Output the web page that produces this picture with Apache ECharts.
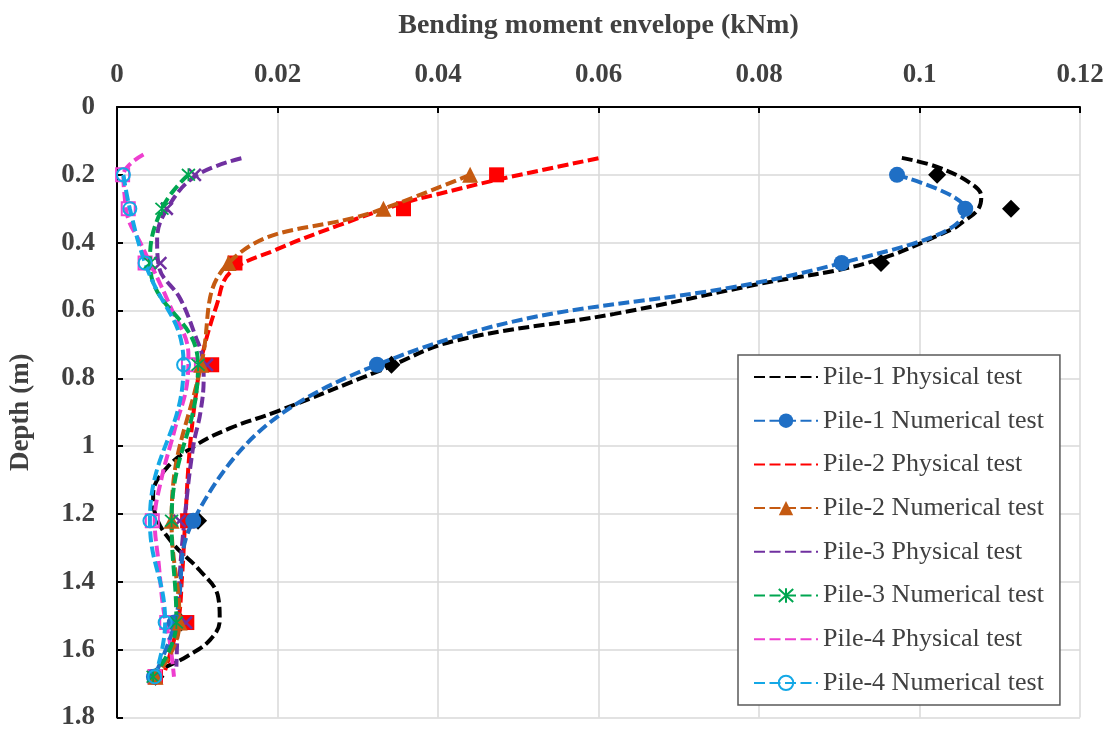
<!DOCTYPE html>
<html>
<head>
<meta charset="utf-8">
<script src="https://cdn.jsdelivr.net/npm/echarts@6/dist/echarts.min.js"></script>
<style>
html,body{margin:0;padding:0;background:#fff;}
#chart{width:1110px;height:731px;}
</style>
</head>
<body>
<div id="chart"></div>
<script>
// ---------- data ----------
const xTicks = [0, 0.02, 0.04, 0.06, 0.08, 0.1, 0.12];
const yTicks = [0, 0.2, 0.4, 0.6, 0.8, 1, 1.2, 1.4, 1.6, 1.8];
const seriesNames = [
  'Pile-1 Physical test', 'Pile-1 Numerical test',
  'Pile-2 Physical test', 'Pile-2 Numerical test',
  'Pile-3 Physical test', 'Pile-3 Numerical test',
  'Pile-4 Physical test', 'Pile-4 Numerical test'
];
// depths (m) of the measured / computed points
const depths = [0.2, 0.3, 0.46, 0.76, 1.22, 1.52, 1.68];

// measured points (markers of the physical tests), kNm
const pile1Measured = [0.1022, 0.1114, 0.0952, 0.0342, 0.0101, 0.0080, 0.0048];
const pile2Measured = [0.0473, 0.0357, 0.0147, 0.0118, 0.0088, 0.0087, 0.0048];
const pile3Measured = [0.0097, 0.0062, 0.0054, 0.0112, 0.0078, 0.0086, 0.0047];
const pile4Measured = [0.0007, 0.0014, 0.0035, 0.0089, 0.0044, 0.0062, 0.0047];

// numerical results, kNm
const pile1Numerical = [0.0972, 0.1057, 0.0903, 0.0324, 0.0095, 0.0072, 0.0046];
const pile2Numerical = [0.0440, 0.0332, 0.0139, 0.0105, 0.0068, 0.0078, 0.0048];
const pile3Numerical = [0.0089, 0.0056, 0.0041, 0.0101, 0.0068, 0.0074, 0.0045];
const pile4Numerical = [0.0008, 0.0016, 0.0035, 0.0083, 0.0041, 0.0060, 0.0047];

// physical-test curves
const pile1CurveM = [0.0978, 0.1021, 0.1063, 0.1077, 0.1073, 0.1055, 0.1040, 0.0936, 0.0800, 0.0620, 0.0420, 0.0330, 0.0199, 0.0141, 0.0099, 0.0062, 0.0045, 0.0049, 0.0070, 0.0103, 0.0126, 0.0128, 0.0116, 0.0087, 0.0058];
const pile1CurveD = [0.150, 0.176, 0.224, 0.264, 0.302, 0.337, 0.361, 0.459, 0.522, 0.610, 0.690, 0.775, 0.898, 0.947, 0.996, 1.064, 1.142, 1.210, 1.288, 1.366, 1.444, 1.513, 1.571, 1.620, 1.654];

const pile2CurveM = [0.0600, 0.0473, 0.0398, 0.0357, 0.0275, 0.0199, 0.0141, 0.0124, 0.0106, 0.0101, 0.0091, 0.0085, 0.0081, 0.0076, 0.0060];
const pile2CurveD = [0.151, 0.215, 0.258, 0.283, 0.350, 0.420, 0.488, 0.586, 0.732, 0.800, 1.000, 1.220, 1.386, 1.520, 1.660];

const pile3CurveM = [0.0155, 0.0097, 0.0062, 0.0050, 0.0052, 0.0079, 0.0099, 0.0106, 0.0108, 0.0104, 0.0095, 0.0084, 0.0078, 0.0076, 0.0074];
const pile3CurveD = [0.151, 0.205, 0.302, 0.390, 0.468, 0.566, 0.683, 0.732, 0.800, 0.900, 1.000, 1.220, 1.386, 1.500, 1.650];

const pile4CurveM = [0.0033, 0.0008, 0.0009, 0.0014, 0.0029, 0.0066, 0.0089, 0.0088, 0.0072, 0.0055, 0.0047, 0.0052, 0.0058, 0.0066, 0.0071];
const pile4CurveD = [0.140, 0.200, 0.250, 0.330, 0.400, 0.586, 0.732, 0.800, 0.950, 1.100, 1.220, 1.347, 1.483, 1.580, 1.680];

// ---------- helpers ----------
const pair = (xs, ds) => xs.map((v, i) => [v, ds[i]]);
const DASH = [11, 4.5];
const LW = 4;
const FONT = 'Liberation Serif';
const CROSS = 'path://M0,0L10,10M0,10L10,0';
const STAR = 'path://M5,0L5,10M0.5,0.5L9.5,9.5M0.5,9.5L9.5,0.5';

function curve(name, color, xs, ds) {
  return {
    name: name, type: 'line', data: pair(xs, ds), smooth: 0.4,
    symbol: 'none', lineStyle: {color: color, width: LW, type: DASH},
    itemStyle: {color: color}, z: 3
  };
}
function numerical(name, color, xs, symbol, size, itemStyle) {
  return {
    name: name, type: 'line', data: pair(xs, depths), smooth: 0.45,
    symbol: symbol, symbolSize: size, showSymbol: true,
    lineStyle: {color: color, width: LW, type: DASH},
    itemStyle: itemStyle, z: 4
  };
}
function measured(name, xs, symbol, size, itemStyle) {
  itemStyle.opacity = 1;
  return {
    name: name, type: 'scatter', data: pair(xs, depths),
    symbol: symbol, symbolSize: size, itemStyle: itemStyle, z: 3
  };
}

const C = {
  black: '#000000', blue: '#1F6FC5', red: '#FF0000', orange: '#C55A11',
  purple: '#7030A0', green: '#00A650', pink: '#EE3ECF', cyan: '#14A8E6'
};

const series = [
  measured('Pile-1 measured', pile1Measured, 'diamond', 18, {color: C.black}),
  curve(seriesNames[0], C.black, pile1CurveM, pile1CurveD),
  numerical(seriesNames[1], C.blue, pile1Numerical, 'circle', 16, {color: C.blue}),

  measured('Pile-2 measured', pile2Measured, 'rect', 15, {color: C.red}),
  curve(seriesNames[2], C.red, pile2CurveM, pile2CurveD),
  numerical(seriesNames[3], C.orange, pile2Numerical, 'triangle', 16, {color: C.orange}),

  measured('Pile-3 measured', pile3Measured, CROSS, 12, {color: 'transparent', borderColor: C.purple, borderWidth: 2.5}),
  curve(seriesNames[4], C.purple, pile3CurveM, pile3CurveD),
  numerical(seriesNames[5], C.green, pile3Numerical, STAR, 13, {color: 'transparent', borderColor: C.green, borderWidth: 1.8}),

  measured('Pile-4 measured', pile4Measured, 'rect', 13, {color: 'transparent', borderColor: C.pink, borderWidth: 2}),
  curve(seriesNames[6], C.pink, pile4CurveM, pile4CurveD),
  numerical(seriesNames[7], C.cyan, pile4Numerical, 'circle', 13, {color: 'transparent', borderColor: C.cyan, borderWidth: 2})
];

const legendData = seriesNames.map((n, i) => {
  const o = {name: n};
  if (i % 2 === 0) o.itemStyle = {color: 'transparent', borderWidth: 0, opacity: 0};
  return o;
});

const option = {
  animation: false,
  backgroundColor: '#ffffff',
  grid: {left: 117, top: 107, width: 963, height: 615, containLabel: false},
  xAxis: {
    type: 'value', position: 'top', min: xTicks[0], max: xTicks[xTicks.length - 1], interval: 0.02,
    name: 'Bending moment envelope (kNm)', nameLocation: 'middle', nameGap: 67,
    nameTextStyle: {fontFamily: FONT, fontWeight: 'bold', fontSize: 28, color: '#404040'},
    axisLine: {show: true, onZero: false, lineStyle: {color: '#000', width: 2}},
    axisTick: {show: true, inside: true, length: 6, lineStyle: {color: '#000', width: 2}},
    axisLabel: {fontFamily: FONT, fontWeight: 'bold', fontSize: 27, color: '#404040', margin: 18},
    splitLine: {show: true, lineStyle: {color: '#d9d9d9', width: 1.5}}
  },
  yAxis: {
    type: 'value', inverse: true, min: yTicks[0], max: yTicks[yTicks.length - 1], interval: 0.2,
    name: 'Depth (m)', nameLocation: 'middle', nameGap: 82, nameRotate: 90,
    nameTextStyle: {fontFamily: FONT, fontWeight: 'bold', fontSize: 27, color: '#404040'},
    axisLine: {show: true, onZero: false, lineStyle: {color: '#000', width: 2}},
    axisTick: {show: true, inside: true, length: 6, lineStyle: {color: '#000', width: 2}},
    axisLabel: {fontFamily: FONT, fontWeight: 'bold', fontSize: 27, color: '#404040', margin: 22},
    splitLine: {show: true, lineStyle: {color: '#d9d9d9', width: 1.5}}
  },
  legend: {
    data: legendData, orient: 'vertical', left: 738, top: 355,
    backgroundColor: '#ffffff', borderColor: '#595959', borderWidth: 1.5,
    padding: [9, 16, 9, 15], itemWidth: 64, itemHeight: 18, itemGap: 17.7,
    textStyle: {fontFamily: FONT, fontSize: 26, color: '#404040', lineHeight: 26}
  },
  series: series
};

const chart = echarts.init(document.getElementById('chart'), null, {renderer: 'canvas'});
chart.setOption(option);
</script>
</body>
</html>
